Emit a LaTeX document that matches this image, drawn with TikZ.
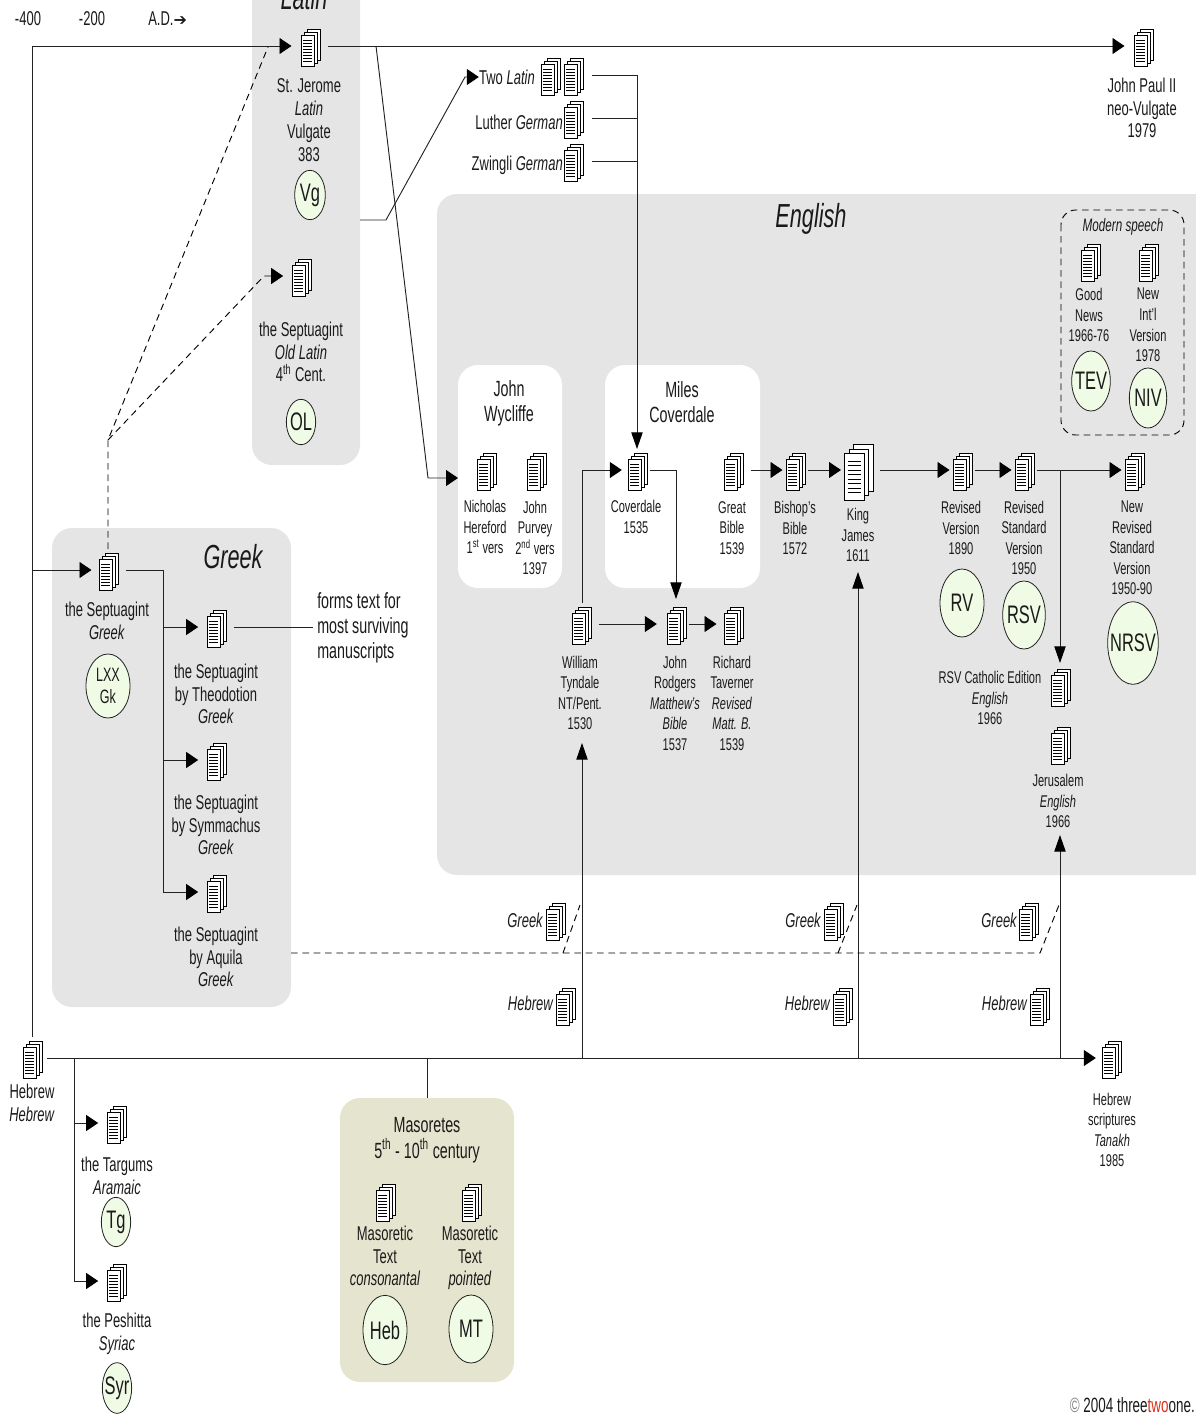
\documentclass[tikz,border=0pt]{standalone}
\usepackage{fontspec}
\setmainfont{Liberation Sans}[FakeStretch=0.65]
\newfontfamily\dej{DejaVu Sans}
\usetikzlibrary{arrows.meta,shapes.geometric}
\definecolor{regiongrey}{HTML}{E5E5E5}
\definecolor{olivebox}{HTML}{E5E5CF}
\definecolor{greenfill}{HTML}{F0FBE6}
\definecolor{linecol}{HTML}{222222}
\definecolor{txtcol}{HTML}{1A1A1A}
\definecolor{redtwo}{HTML}{D8301C}
\newcommand{\fsS}{\fontsize{12.75}{15.4}\selectfont}
\newcommand{\fsB}{\fontsize{15}{17.1}\selectfont}
\newcommand{\fsT}{\fontsize{16.5}{18.8}\selectfont}
\newcommand{\fsM}{\fontsize{13.5}{15.4}\selectfont}
\newcommand{\fsH}{\fontsize{25}{28}\selectfont\itshape}
\newcommand{\fsC}{\fontsize{19}{20}\selectfont}
\newcommand{\dt}[1]{\makebox[0pt][c]{#1}}
\newcommand{\docat}[3]{\node[docnode] (#1) at (#2,#3) {}; \pic at (#1.center) {docicon};}
\tikzset{
  docicon/.pic={
    \foreach \d in {6,3,0}{
      \draw[draw=black,fill=white,line width=0.7pt] (-9+\d,-11-\d) rectangle (4+\d,20-\d);
    }
    \foreach \l in {-6,-3,0,3,6,9,12,15}{
      \draw[black,line width=0.75pt] (-7,\l) -- (2,\l);
    }
  },
  docnode/.style={inner sep=0,outer sep=3*0.75pt,minimum width=14.25pt,minimum height=27pt},
  region/.style={rounded corners=15pt},
  lab/.style={inner sep=0,align=center,text=txtcol},
  sm/.style={lab,font=\fsS},
  bg/.style={lab,font=\fsB},
  ttl/.style={lab,font=\fsT},
  hd/.style={lab,font=\fsH},
  disc/.style={ellipse,draw=linecol,fill=greenfill,line width=0.6pt,inner sep=0,text=txtcol,font=\fsC},
  ln/.style={draw=linecol,line width=0.7pt},
  arrH/.style={ln,-{Triangle[length=9pt,width=12pt,color=black]}},
  arrV/.style={ln,-{Triangle[length=12.5pt,width=8.5pt,color=black]}},
  dsh/.style={draw=black,line width=0.7pt,dash pattern=on 5pt off 3.5pt},
}
\begin{document}
\begin{tikzpicture}[x=0.75pt,y=-0.75pt]
\useasboundingbox (0,0) rectangle (1196,1414);
% regions
\fill[regiongrey,region] (252,-40) rectangle (360,465);
\fill[regiongrey,region] (437,194) rectangle (1230,875);
\fill[regiongrey,region] (52,528) rectangle (291,1007);
\fill[olivebox,region] (340,1098) rectangle (514,1382);
\fill[white,region] (458,365) rectangle (562,588);
\fill[white,region] (605,365) rectangle (760,588);
\draw[draw=black,line width=0.7pt,dash pattern=on 5pt off 3.5pt,rounded corners=11pt] (1061,210) rectangle (1184,435);
% timeline
\node[bg] (tm1) at (28,19) {-400};
\node[bg] (tm2) at (92,19) {-200};
\node[bg,anchor=west] (tm3) at (148,19) {A.D.{\dej\fontsize{12}{14}\selectfont ➔}};
% titles
\node[hd] (latintitle) at (304,-2) {Latin};
\node[hd] (englishtitle) at (811,219) {English};
\node[hd] (greektitle) at (233,557) {Greek};
\node[ttl] (wyc) at (509,403) {John\\Wycliffe};
\node[ttl] (mil) at (682,402) {Miles\\Coverdale};
\node[ttl,font=\fontsize{16.5}{19.5}\selectfont] (mas) at (427,1140) {Masoretes\\5\textsuperscript{th} - 10\textsuperscript{th} century};
\node[lab,font=\fsM\itshape] (modern) at (1123,227) {Modern speech};
% documents
\docat{jerome}{310}{46}
\docat{jp}{1143}{46}
\docat{oldlat}{301}{276}
\docat{tla}{550}{75}
\docat{tlb}{573}{75}
\docat{luth}{573}{118}
\docat{zwin}{573}{161}
\docat{cov}{637}{470}
\docat{great}{733}{470}
\docat{bish}{795}{470}
\node[docnode,minimum width=21pt,minimum height=38pt] (kj) at (858,470) {};
\pic[scale=1.5] at (kj.center) {docicon};
\docat{nich}{486}{470}
\docat{purv}{536}{470}
\docat{tyn}{581}{624}
\docat{rod}{676}{624}
\docat{tav}{733}{624}
\docat{rv}{962}{470}
\docat{rsv}{1024}{470}
\docat{nrsv}{1134}{470}
\docat{rsvc}{1060}{686}
\docat{jer}{1060}{744}
\docat{tev}{1090}{261}
\docat{niv}{1148}{261}
\docat{lxx}{108}{570}
\docat{theo}{216}{627}
\docat{sym}{216}{760}
\docat{aq}{216}{892}
\docat{gka}{555}{920}
\docat{gkb}{833}{920}
\docat{gkc}{1028}{920}
\docat{hba}{565}{1005}
\docat{hbb}{842}{1005}
\docat{hbc}{1039}{1005}
\docat{heb}{32}{1058}
\docat{hebend}{1111}{1058}
\docat{targ}{116}{1123}
\docat{pesh}{116}{1281}
\docat{mta}{385}{1201}
\docat{mtb}{471}{1201}
% labels
\node[bg] (l1) at (309,120) {St. Jerome\\\textit{Latin}\\Vulgate\\383};
\node[bg] (l2) at (1142,108) {John Paul II\\neo-Vulgate\\1979};
\node[bg] (l3) at (301,352) {the Septuagint\\\textit{Old Latin}\\4\textsuperscript{th} Cent.};
\node[bg,anchor=east] (twolab) at (535,77) {Two \textit{Latin}};
\node[bg,anchor=east] (lutlab) at (563,122) {Luther \textit{German}};
\node[bg,anchor=east] (zwilab) at (563,165) {Zwingli \textit{German}};
\node[sm] (l4) at (485,527) {Nicholas\\Hereford\\1\textsuperscript{st} vers};
\node[sm] (l5) at (535,538) {John\\Purvey\\2\textsuperscript{nd} vers\\1397};
\node[sm] (l6) at (636,517) {Coverdale\\1535};
\node[sm] (l7) at (732,528) {Great\\Bible\\1539};
\node[sm] (l8) at (795,528) {Bishop's\\Bible\\1572};
\node[sm] (l9) at (858,535) {King\\James\\1611};
\node[sm] (l10) at (961,528) {Revised\\Version\\1890};
\node[sm] (l11) at (1024,538) {Revised\\Standard\\Version\\1950};
\node[sm] (l12) at (1132,548) {New\\Revised\\Standard\\Version\\1950-90};
\node[sm] (l13) at (990,698) {RSV Catholic Edition\\\textit{English}\\1966};
\node[sm] (l14) at (1058,801) {Jerusalem\\\textit{English}\\1966};
\node[sm] (l15) at (580,693) {William\\Tyndale\\NT/Pent.\\1530};
\node[sm] (l16) at (675,703) {John\\Rodgers\\\textit{Matthew's}\\\textit{Bible}\\1537};
\node[sm] (l17) at (732,703) {Richard\\Taverner\\\textit{Revised}\\\textit{Matt. B.}\\1539};
\node[sm] (l18) at (1089,315) {Good\\News\\1966-76};
\node[sm] (l19) at (1148,325) {New\\Int'l\\Version\\1978};
\node[bg] (l20) at (107,621) {the Septuagint\\\textit{Greek}};
\node[bg] (l21) at (216,694) {the Septuagint\\by Theodotion\\\textit{Greek}};
\node[bg] (l22) at (216,825) {the Septuagint\\by Symmachus\\\textit{Greek}};
\node[bg] (l23) at (216,957) {the Septuagint\\by Aquila\\\textit{Greek}};
\node[ttl,align=left,anchor=west] (l24) at (317,628) {forms text for\\most surviving\\manuscripts};
\node[bg] (l25) at (32,1103) {Hebrew\\\textit{Hebrew}};
\node[sm] (l26) at (1112,1130) {Hebrew\\scriptures\\\textit{Tanakh}\\1985};
\node[bg] (l27) at (117,1176) {the Targums\\\textit{Aramaic}};
\node[bg] (l28) at (117,1334) {the Peshitta\\\textit{Syriac}};
\node[bg] (l29) at (385,1256) {Masoretic\\Text\\\textit{consonantal}};
\node[bg] (l30) at (470,1258) {Masoretic\\Text\\\textit{pointed}};
\node[bg,font=\fsB\itshape,anchor=east] (g1) at (543,920) {Greek};
\node[bg,font=\fsB\itshape,anchor=east] (g2) at (821,920) {Greek};
\node[bg,font=\fsB\itshape,anchor=east] (g3) at (1017,920) {Greek};
\node[bg,font=\fsB\itshape,anchor=east] (h1) at (553,1003) {Hebrew};
\node[bg,font=\fsB\itshape,anchor=east] (h2) at (830,1003) {Hebrew};
\node[bg,font=\fsB\itshape,anchor=east] (h3) at (1027,1003) {Hebrew};
\node[lab,anchor=east,font=\fontsize{15.5}{17}\selectfont] (copy) at (1195,1405) {\textcolor{gray}{©} 2004 three\textcolor{redtwo}{two}one.};
% discs
\node[disc,minimum width=23pt,minimum height=37pt] (dvg) at (310,195) {\dt{Vg}};
\node[disc,minimum width=22pt,minimum height=34pt] (dol) at (301,422) {\dt{OL}};
\node[disc,minimum width=33pt,minimum height=48pt,font=\fontsize{14.5}{17}\selectfont,align=center] (dlxx) at (108,686) {LXX\\Gk};
\node[disc,minimum width=29pt,minimum height=45pt] (dtev) at (1091,381) {\dt{TEV}};
\node[disc,minimum width=28pt,minimum height=45pt] (dniv) at (1148,398) {\dt{NIV}};
\node[disc,minimum width=33pt,minimum height=51pt] (drv) at (962,603) {\dt{RV}};
\node[disc,minimum width=32pt,minimum height=51pt] (drsv) at (1024,615) {\dt{RSV}};
\node[disc,minimum width=38pt,minimum height=62pt] (dnrsv) at (1133,643) {\dt{NRSV}};
\node[disc,minimum width=22pt,minimum height=37pt] (dtg) at (116,1222) {\dt{Tg}};
\node[disc,minimum width=22pt,minimum height=38pt] (dsyr) at (117,1388) {\dt{Syr}};
\node[disc,minimum width=33pt,minimum height=52pt] (dheb) at (385,1330) {\dt{Heb}};
\node[disc,minimum width=33pt,minimum height=51pt] (dmt) at (471,1329) {\dt{MT}};
% junction coordinates
\coordinate (jmain) at (32,570);
\coordinate (jtarg) at (74,1058);
\coordinate (jmaso) at (427,1058);
\coordinate (mastop) at (427,1098);
\coordinate (jty) at (582,1058);
\coordinate (tyntip) at (582,743);
\coordinate (jkj) at (858,1058);
\coordinate (kjtip) at (858,572);
\coordinate (jjer) at (1060,1058);
\coordinate (jertip) at (1060,835);
\coordinate (jwyc) at (376,46);
\coordinate (wycb) at (428,478);
\coordinate (wyctip) at (458,478);
\coordinate (vgo) at (360,220);
\coordinate (vgb) at (386,220);
\coordinate (vgc) at (465,77);
\coordinate (lxxb) at (163,570);
\coordinate (formsend) at (313,627);
\coordinate (gkstart) at (291,953);
\coordinate (gkend) at (1040,953);
\coordinate (d1a) at (563,953);
\coordinate (d1b) at (580,905);
\coordinate (d2a) at (838,953);
\coordinate (d2b) at (857,905);
\coordinate (d3b) at (1059,905);
\coordinate (dj) at (108,440);
\coordinate (dtop) at (268,47);
\coordinate (dol1) at (264,276);
\coordinate (covin) at (582,470);
\coordinate (covout) at (676,470);
\coordinate (rodtip) at (676,599);
\coordinate (jrsv) at (1060,470);
\coordinate (rsvctip) at (1060,663);
% connectors
\draw[arrH,shorten >=4.5pt] (heb.north) |- (jerome.west);
\draw[arrH,shorten >=3pt] (jmain) -- (lxx.west);
\draw[arrH,shorten >=2pt,shorten <=2pt] (heb.east) -- (hebend.west);
\draw[arrH,shorten >=4pt] (jtarg) |- (targ.west);
\draw[arrH,shorten >=4pt] (jtarg) |- (pesh.west);
\draw[ln] (jmaso) -- (mastop);
\draw[arrV] (jty) -- (tyntip);
\draw[arrV] (jkj) -- (kjtip);
\draw[arrV] (jjer) -- (jertip);
\draw[arrH,shorten >=4.5pt,shorten <=4pt] (jerome.east) -- (jp.west);
\draw[arrH] (jwyc) -- (wycb) -- (wyctip);
\draw[arrH] (vgo) -- (vgb) -- (vgc) -- (twolab.west);
\draw[arrV,shorten <=4.5pt] (tlb.east) -| (cov.north);
\draw[ln,shorten <=4.5pt] (luth.east) -- (luth.east -| cov.north);
\draw[ln,shorten <=4.5pt] (zwin.east) -- (zwin.east -| cov.north);
\draw[arrH,shorten >=2pt] (tyn.north -| covin) |- (cov.west);
\draw[arrV] (cov.east) -| (rodtip);
\draw[arrH,shorten >=5pt,shorten <=4pt] (tyn.east) -- (rod.west);
\draw[arrH,shorten >=3pt] (rod.east) -- (tav.west);
\draw[arrH,shorten <=4pt] (great.east) -- (bish.west);
\draw[arrH] (bish.east) -- (kj.west);
\draw[arrH,shorten <=4pt] (kj.east) -- (rv.west);
\draw[arrH] (rv.east) -- (rsv.west);
\draw[arrH] (rsv.east) -- (nrsv.west);
\draw[arrV] (jrsv) -- (rsvctip);
\draw[ln,shorten <=4pt] (lxx.east) -- (lxxb) -- (lxxb |- aq.west);
\draw[arrH,shorten >=4pt] (lxxb |- theo.west) -- (theo.west);
\draw[arrH,shorten >=4pt] (lxxb |- sym.west) -- (sym.west);
\draw[arrH,shorten >=4pt] (lxxb |- aq.west) -- (aq.west);
\draw[ln,shorten <=4pt] (theo.east) -- (formsend);
% dashed influence lines
\draw[dsh] (gkstart) -- (gkend) -- (d3b);
\draw[dsh] (d1a) -- (d1b);
\draw[dsh] (d2a) -- (d2b);
\draw[dsh] (lxx.north) -- (dj) -- (dtop);
\draw[dsh,-{Triangle[length=9pt,width=12pt,color=black]},shorten >=4pt] (dj) -- (dol1) -- (oldlat.west);
\end{tikzpicture}
\end{document}
